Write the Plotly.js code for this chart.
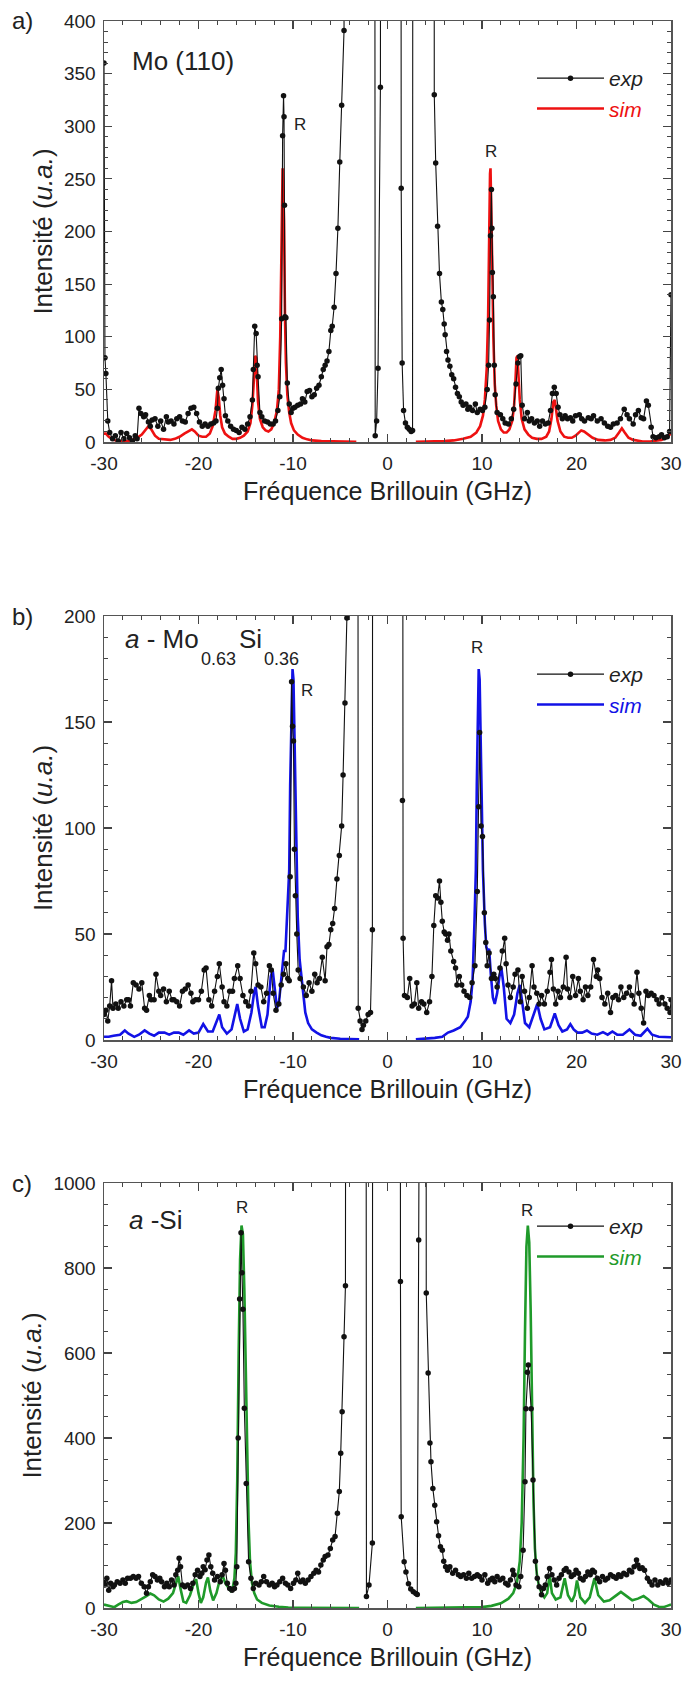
<!DOCTYPE html>
<html>
<head>
<meta charset="utf-8">
<script src="https://cdn.plot.ly/plotly-3.0.1.min.js"></script>
<style>html,body{margin:0;padding:0;background:#fff;}#chart{width:683px;height:1682px;}</style>
</head>
<body>
<div id="chart"></div>
<script>
// ---------- tick labels ----------
const X_TICKS = [-30, -20, -10, 0, 10, 20, 30];
const X_TICK_TEXT = ['-30', '-20', '-10', '0', '10', '20', '30'];

// ---------- panel a : Mo (110) ----------
const A_EXP_X = [-30,-29.9,-29.8,-29.6,-29.4,-29.1,-28.8,-28.5,-28.2,-27.9,-27.6,-27.3,-27.0,-26.7,-26.5,-26.3,-26.1,-25.8,-25.6,-25.3,-25.1,-24.9,-24.6,-24.3,-24.0,-23.7,-23.4,-23.2,-22.9,-22.6,-22.3,-22.0,-21.7,-21.4,-21.1,-20.8,-20.5,-20.2,-19.9,-19.6,-19.3,-19.0,-18.7,-18.4,-18.15,-18.0,-17.9,-17.75,-17.6,-17.45,-17.3,-17.15,-16.9,-16.6,-16.3,-16.0,-15.7,-15.4,-15.1,-14.8,-14.55,-14.3,-14.2,-14.05,-13.9,-13.8,-13.7,-13.5,-13.3,-13.0,-12.7,-12.4,-12.1,-11.85,-11.6,-11.4,-11.2,-11.1,-11.0,-10.95,-10.9,-10.85,-10.75,-10.6,-10.4,-10.2,-10.0,-9.8,-9.5,-9.2,-9.0,-8.75,-8.5,-8.25,-8.0,-7.75,-7.5,-7.25,-7.0,-6.8,-6.6,-6.4,-6.2,-6.0,-5.85,-5.65,-5.45,-5.25,-5.05,-4.85,-4.6,-4.4,-1.45,-1.3,-1.15,-1.0,-0.75,-0.6,1.35,1.45,1.55,1.7,1.9,2.1,2.3,2.5,2.65,2.75,4.85,4.95,5.1,5.3,5.5,5.7,5.85,6.0,6.1,6.25,6.4,6.6,6.8,7.0,7.2,7.4,7.6,7.8,8.0,8.3,8.5,8.7,9.0,9.3,9.5,9.8,10.05,10.3,10.55,10.7,10.8,10.9,11.0,11.05,11.1,11.2,11.3,11.4,11.6,11.95,12.2,12.45,12.8,13.1,13.35,13.6,13.8,13.95,14.1,14.25,14.5,14.8,15.0,15.25,15.55,15.85,16.1,16.4,16.7,17.0,17.25,17.45,17.65,17.85,18.05,18.25,18.5,18.8,19.05,19.35,19.6,19.9,20.3,20.55,20.85,21.25,21.55,21.8,22.2,22.6,22.95,23.3,23.6,23.9,24.3,24.65,25.05,25.35,25.6,26.0,26.25,26.55,26.85,27.1,27.4,27.6,27.9,28.1,28.4,28.75,29.0,29.3,29.6,29.85,30.0];
const A_EXP_Y = [360,80,65,20,9,3,6,1,9,3,8,4,1,6,3,32,27,24,26,19,15,21,22,15,20,12,24,19,20,17,22,24,20,19,27,32,33,27,19,15,17,15,17,18,20,32,51,61,69,54,41,25,20,15,12,11,9,14,12,17,24,40,69,110,103,73,62,28,24,20,19,17,17,20,30,43,117,291,329,309,225,119,118,56,36,28,32,33,35,36,41,38,48,49,43,45,51,54,62,69,73,77,86,106,110,128,160,203,266,320,391,2000,2000,6,20,70,337,2000,2000,241,75,30,18,14,12,10,11,2000,2000,330,265,205,160,133,126,112,102,86,78,72,64,60,52,46,43,38,35,36,31,33,30,36,28,31,30,33,50,73,116,196,240,203,161,138,73,45,28,26,22,18,17,22,31,55,75,81,82,35,22,28,20,22,18,20,15,20,17,18,30,46,52,46,33,26,22,25,22,23,20,25,26,22,20,23,22,25,20,22,18,15,14,17,18,22,31,26,22,17,26,30,23,22,39,35,14,5,4,5,7,4,5,10,140];
const A_SIM_X_NEG = [-30,-29.8,-29.5,-29,-28.5,-28,-27.5,-27,-26.5,-26,-25.6,-25.3,-25.0,-24.6,-24.2,-23.5,-23,-22.5,-22,-21.5,-21.0,-20.7,-20.4,-20,-19.6,-19.2,-18.8,-18.5,-18.2,-18.0,-17.85,-17.7,-17.5,-17.2,-16.8,-16.4,-16,-15.6,-15.2,-14.8,-14.5,-14.3,-14.1,-14.0,-13.9,-13.8,-13.7,-13.5,-13.2,-12.9,-12.6,-12.3,-12.0,-11.7,-11.5,-11.35,-11.25,-11.15,-11.1,-11.0,-10.95,-10.85,-10.75,-10.6,-10.4,-10.2,-9.9,-9.5,-9.0,-8.5,-8,-7,-6,-5,-4,-3.3];
const A_SIM_Y_NEG = [8,8,5,2,1,1,1,2,4,7,11,15,12,6,3,2,2,3,5,8,11,12,10,6,5,5,8,15,30,50,42,25,14,8,5,3,3,4,6,10,18,35,65,82,80,60,38,22,14,11,10,12,18,30,50,100,165,258,260,230,210,120,75,45,28,18,11,7,4,2.5,1.5,0.8,0.5,0.3,0.2,0.2];
const A_SIM_X_POS = [3.0,4,5,6,7,8,8.8,9.4,9.8,10.1,10.3,10.5,10.65,10.75,10.85,10.9,11.0,11.1,11.2,11.35,11.5,11.7,12.0,12.3,12.6,12.9,13.2,13.4,13.55,13.65,13.75,13.85,14.0,14.2,14.5,14.9,15.3,15.8,16.3,16.8,17.1,17.35,17.55,17.7,17.85,18.0,18.3,18.7,19.1,19.5,19.9,20.2,20.5,20.8,21.2,21.7,22.3,23,23.6,24.1,24.5,24.8,25.1,25.5,26,26.5,27,27.8,28.5,29,29.4,29.7,30];
const A_SIM_Y_POS = [0.2,0.3,0.5,0.8,1.5,3,5,9,15,25,40,70,120,210,255,260,220,160,100,55,35,20,12,9,9,12,20,35,60,80,82,65,40,22,12,7,4,3,3,5,10,22,38,40,32,20,10,5,4,4,6,9,11,10,7,4,2,1.5,2,4,9,13,9,4,2,1,0.5,0.5,1,2,4,6,8];

// ---------- panel b : a-Mo0.63Si0.36 ----------
const B_EXP_X = [-30,-29.8,-29.6,-29.4,-29.2,-29.05,-28.75,-28.5,-28.2,-27.9,
-27.6,-27.4,-27.2,-26.9,-26.6,-26.3,-26.0,-25.7,-25.5,-25.2,
-25.0,-24.7,-24.5,-24.2,-24.0,-23.7,-23.4,-23.1,-22.8,-22.6,
-22.3,-22.0,-21.7,-21.4,-21.1,-20.8,-20.6,-20.3,-20.0,-19.7,
-19.4,-19.2,-18.9,-18.6,-18.3,-18.0,-17.8,-17.5,-17.3,-17.0,
-16.7,-16.4,-16.2,-15.85,-15.6,-15.3,-15.0,-14.7,-14.45,-14.15,
-13.95,-13.7,-13.4,-13.1,-12.8,-12.5,-12.3,-12.1,-11.8,-11.5,
-11.25,-11.0,-10.75,-10.55,-10.4,-10.3,-10.15,-10.05,-9.95,-9.85,
-9.75,-9.6,-9.45,-9.25,-8.9,-8.6,-8.3,-8.0,-7.7,-7.45,
-7.2,-6.9,-6.6,-6.4,-6.2,-6.0,-5.8,-5.6,-5.35,-5.1,
-4.85,-4.7,-4.5,-4.3,-4.15,-3.2,-3.1,-2.9,-2.7,-2.55,
-2.3,-2.05,-1.8,-1.6,-1.5,1.5,1.58,1.65,1.8,2.1,
2.35,2.6,2.85,3.1,3.3,3.6,3.85,4.15,4.45,4.7,
4.9,5.1,5.3,5.5,5.65,5.8,6.0,6.15,6.35,6.5,
6.7,7.0,7.2,7.35,7.6,7.85,8.1,8.4,8.7,8.95,
9.25,9.5,9.65,9.75,9.9,10.05,10.25,10.4,10.55,10.75,
11.0,11.25,11.4,11.6,11.9,12.15,12.4,12.55,12.75,13.0,
13.3,13.5,13.8,14.05,14.25,14.5,14.8,15.0,15.3,15.5,
15.8,16.05,16.3,16.6,16.9,17.2,17.35,17.55,17.8,18.05,
18.3,18.6,18.9,19.05,19.3,19.6,19.9,20.2,20.4,20.7,
20.95,21.2,21.5,21.8,22.1,22.25,22.45,22.7,23.0,23.3,
23.6,23.85,24.15,24.45,24.7,25.0,25.3,25.6,25.85,26.1,
26.4,26.6,26.85,27.1,27.35,27.6,27.9,28.2,28.5,28.75,
29.05,29.35,29.6,29.9,30.0];
const B_EXP_Y = [12,14,9,16,28,15,17,15,18,16,
19,19,16,27,26,24,27,15,14,21,
19,19,31,23,21,24,18,23,19,19,
18,16,23,24,26,22,18,19,19,23,
33,34,19,16,23,30,36,25,18,16,
23,23,29,35,29,21,18,16,23,41,
36,26,25,18,22,35,33,22,14,17,
26,31,36,29,28,77,169,148,141,90,
68,50,33,29,25,21,27,23,31,27,
29,39,28,44,45,52,55,62,76,87,
101,125,159,199,1000,1000,15,9,5,7,
9,12,13,52,1000,1000,113,48,21,20,
29,16,17,27,15,18,17,13,18,30,
54,68,67,75,65,56,51,50,47,50,
42,37,34,26,30,26,23,21,20,27,
35,70,110,145,101,96,60,46,35,41,
29,31,29,25,34,42,48,36,26,20,
25,31,33,18,30,23,15,20,35,25,
22,17,21,17,23,32,38,24,17,23,
20,25,39,24,20,30,21,29,23,19,
25,21,25,38,30,33,29,20,17,22,
13,20,21,19,25,20,22,25,21,17,
32,22,15,8,23,21,22,21,19,17,
20,17,15,13,19];
const B_SIM_X_NEG = [-30,-29.5,-29,-28.3,-27.8,-27.4,-26.8,-26.3,-25.7,-25.2,
-24.7,-24.2,-23.6,-23.1,-22.6,-22.1,-21.6,-21.0,-20.5,-20.0,
-19.5,-19.0,-18.5,-18.0,-17.8,-17.5,-17.0,-16.5,-16.1,-15.9,
-15.6,-15.2,-14.8,-14.4,-14.1,-13.95,-13.7,-13.3,-13.0,-12.7,
-12.35,-12.15,-11.95,-11.7,-11.5,-11.2,-10.95,-10.8,-10.6,-10.4,
-10.3,-10.15,-10.05,-9.95,-9.85,-9.75,-9.65,-9.5,-9.3,-9.1,
-8.9,-8.7,-8.4,-8.0,-7.5,-7.0,-6.5,-6.0,-5.0,-4.0,-3.0];
const B_SIM_Y_NEG = [1.5,1.5,2,2.5,4.5,3,1.5,2.5,4.5,3,
2,3.5,3.5,2.5,3.5,3.5,2.5,4.5,3,3.5,
7.5,4,4,10,12,6,3,5,14,17,
10,4,5,13,23,25,16,6,6,12,
30,33,25,15,17,32,42,42,60,80,
120,160,175,170,140,120,80,58,38,29,
20,13,8,5,3.5,2.2,1.5,1,0.6,0.4,0.3];
const B_SIM_X_POS = [3.0,4.0,5.0,5.8,6.4,7.0,7.7,8.2,8.5,8.8,
9.0,9.2,9.35,9.45,9.55,9.65,9.75,9.85,9.95,10.1,
10.3,10.45,10.6,10.75,10.95,11.15,11.35,11.6,11.85,12.05,
12.3,12.6,13.0,13.4,13.75,14.0,14.25,14.55,15.0,15.5,
15.85,16.2,16.6,17.2,17.7,18.1,18.5,19.0,19.35,19.7,
20.1,20.6,21.1,21.6,22.2,22.8,23.3,23.8,24.3,24.9,
25.6,26.2,26.8,27.5,28.0,28.7,29.3,30.0];
const B_SIM_Y_POS = [0.3,0.5,1,1.5,3.5,4.5,6,9,11,18,
28,55,80,120,150,175,170,140,120,80,
55,44,42,43,30,20,17,22,30,34,
25,10,8,12,22,26,18,8,6,12,
17,10,5,6,12.5,7,4,5,7.5,5,
3.5,3.5,4.5,3,2.5,3.7,2.5,4,2.5,2.5,
5,2.5,2,5.3,2.5,1.5,1.5,1.3];

// ---------- panel c : a-Si ----------
const C_EXP_X = [-30,-29.9,-29.7,-29.5,-29.3,-29.05,-28.9,-28.6,-28.3,-28.0,
-27.75,-27.5,-27.2,-26.9,-26.6,-26.35,-26.05,-25.75,-25.5,-25.3,
-25.1,-24.85,-24.6,-24.35,-24.1,-23.9,-23.6,-23.35,-23.1,-22.85,
-22.6,-22.4,-22.2,-22.05,-21.9,-21.7,-21.45,-21.15,-20.85,-20.6,
-20.35,-20.1,-19.85,-19.65,-19.5,-19.3,-19.1,-18.9,-18.7,-18.5,
-18.3,-18.0,-17.7,-17.5,-17.3,-17.15,-16.95,-16.7,-16.45,-16.2,
-16.05,-15.95,-15.8,-15.65,-15.5,-15.4,-15.3,-15.15,-14.95,-14.7,
-14.45,-14.2,-13.95,-13.6,-13.35,-13.1,-12.8,-12.5,-12.2,-11.95,
-11.7,-11.4,-11.1,-10.8,-10.55,-10.25,-9.95,-9.7,-9.5,-9.2,
-8.95,-8.7,-8.4,-8.1,-7.8,-7.55,-7.3,-7.05,-6.8,-6.6,
-6.3,-6.05,-5.8,-5.55,-5.3,-5.1,-4.95,-4.8,-4.6,-4.45,
-4.3,-2.35,-2.23,-1.96,-1.6,-1.5,1.3,1.37,1.45,1.76,
1.95,2.22,2.46,2.73,3.0,3.15,3.3,3.4,4.0,4.1,
4.3,4.49,4.6,4.8,5.0,5.2,5.4,5.6,5.8,5.95,
6.15,6.35,6.6,6.9,7.2,7.5,7.75,8.05,8.35,8.6,
8.9,9.2,9.5,9.75,10.0,10.3,10.6,10.85,11.1,11.35,
11.6,11.9,12.2,12.5,12.75,13.0,13.25,13.4,13.6,13.9,
14.1,14.35,14.55,14.65,14.8,14.9,15.2,15.4,15.65,15.85,
16.05,16.3,16.5,16.7,16.9,17.15,17.4,17.65,17.9,18.15,
18.4,18.7,18.9,19.2,19.45,19.7,19.95,20.2,20.4,20.7,
20.95,21.2,21.45,21.7,21.9,22.2,22.45,22.75,23.05,23.3,
23.6,23.9,24.2,24.45,24.7,25.0,25.3,25.6,25.85,26.1,
26.35,26.5,26.7,26.95,27.2,27.5,27.75,28.0,28.3,28.6,
28.85,29.15,29.45,29.7,30.0];
const C_EXP_Y = [60,54,70,42,58,50,54,62,58,66,
58,70,70,74,70,74,58,50,35,50,
62,78,74,66,70,62,50,58,50,66,
54,78,89,117,97,54,50,54,46,58,
78,89,74,82,97,90,113,125,97,82,
66,74,62,78,105,89,58,46,42,46,
58,97,400,727,883,789,703,470,293,109,
70,46,58,54,62,74,62,54,58,50,
54,62,70,58,54,46,58,66,82,62,
66,58,66,74,82,89,85,101,113,121,
125,140,160,168,223,274,364,462,638,758,
5000,5000,27,54,153,5000,5000,768,215,109,
85,57,45,38,34,32,866,5000,5000,741,
553,388,344,281,242,203,170,144,136,110,
97,89,97,82,89,78,74,78,70,82,
70,74,78,74,66,78,58,66,70,62,
74,66,70,58,54,66,89,78,54,50,
74,136,297,469,555,572,469,301,110,70,
50,31,46,54,74,93,78,66,54,70,
78,89,93,85,74,78,89,82,70,66,
74,85,78,89,85,70,62,74,66,70,
78,74,70,78,74,82,78,89,85,97,
113,101,93,95,89,70,62,54,66,54,
62,58,66,58,66];
const C_SIM_X_NEG = [-30,-29.7,-29.3,-28.9,-28.5,-28.0,-27.6,-27.1,-26.6,-26.1,
-25.6,-25.1,-24.7,-24.2,-23.7,-23.2,-22.7,-22.35,-22.15,-21.9,
-21.6,-21.3,-20.9,-20.5,-20.25,-20.0,-19.75,-19.5,-19.2,-19.0,
-18.75,-18.45,-18.1,-17.8,-17.45,-17.15,-16.85,-16.6,-16.4,-16.2,
-16.05,-15.9,-15.75,-15.6,-15.45,-15.3,-15.15,-15.0,-14.85,-14.7,
-14.55,-14.35,-14.1,-13.8,-13.3,-12.5,-11.5,-10.5,-9.0,-7.0,-3.0];
const C_SIM_Y_NEG = [8,6,3,2,8,14,16,12,14,20,
27,34,30,20,15,22,35,60,75,45,
15,12,30,58,68,35,12,25,60,72,
40,18,35,62,76,58,48,40,45,70,
130,300,600,820,900,880,750,560,350,200,
110,60,35,20,12,6,3,1,0.5,0,0];
const C_SIM_X_POS = [3.0,8,10,11,12,12.8,13.3,13.7,14.0,14.2,
14.4,14.55,14.7,14.85,15.0,15.15,15.3,15.45,15.6,15.8,
16.0,16.3,16.6,16.9,17.15,17.4,17.8,18.3,18.75,19.1,
19.5,19.8,20.05,20.4,20.9,21.4,21.9,22.3,22.9,23.5,
24.1,24.7,25.3,25.9,26.5,27.1,27.6,28.2,28.7,29.2,29.6,30];
const C_SIM_Y_POS = [0,0.5,2,5,11,22,35,60,110,200,
400,650,850,900,860,700,450,250,140,80,
55,35,25,35,78,35,20,25,70,30,
15,30,65,25,12,25,70,30,15,18,
28,38,28,18,22,28,20,8,3,2,5,8];

// ---------- styling ----------
const FONT = 'Liberation Sans, Arial, Helvetica, sans-serif';
const SIM_COLORS = ['#ee1111', '#1212e6', '#1f9a2a'];

function joinSim(xn, yn, xp, yp) {
  return { x: xn.concat([null], xp), y: yn.concat([null], yp) };
}

const panels = [
  { ex: A_EXP_X, ey: A_EXP_Y, sim: joinSim(A_SIM_X_NEG, A_SIM_Y_NEG, A_SIM_X_POS, A_SIM_Y_POS), yr: [0, 400], dy: 50, mdy: 10 },
  { ex: B_EXP_X, ey: B_EXP_Y, sim: joinSim(B_SIM_X_NEG, B_SIM_Y_NEG, B_SIM_X_POS, B_SIM_Y_POS), yr: [0, 200], dy: 50, mdy: 10 },
  { ex: C_EXP_X, ey: C_EXP_Y, sim: joinSim(C_SIM_X_NEG, C_SIM_Y_NEG, C_SIM_X_POS, C_SIM_Y_POS), yr: [0, 1000], dy: 200, mdy: 50 }
];

// pixel geometry of the three frames (top, bottom) and legend tops in a 683x1682 page
const FRAMES = [[21, 442], [616, 1040], [1183, 1608]];
const LEGEND_TOPS = [58, 654, 1206];
const H = 1682, W = 683;
const XDOM = [104 / W, 671 / W];

const traces = [];
const layout = {
  width: W, height: H,
  margin: { l: 0, r: 0, t: 0, b: 0 },
  paper_bgcolor: '#fff', plot_bgcolor: '#fff',
  font: { family: FONT, color: '#222' },
  showlegend: true,
  annotations: []
};

panels.forEach((p, i) => {
  const n = i === 0 ? '' : String(i + 1);
  const xa = 'x' + n, ya = 'y' + n;
  const leg = 'legend' + n;
  traces.push({
    x: p.sim.x, y: p.sim.y, xaxis: xa, yaxis: ya, mode: 'lines', connectgaps: false,
    line: { color: SIM_COLORS[i], width: 2.6 },
    name: '<i><span style="color:' + SIM_COLORS[i] + '">sim</span></i>', legend: leg, legendrank: 2
  });
  traces.push({
    x: p.ex, y: p.ey, xaxis: xa, yaxis: ya, mode: 'lines+markers',
    line: { color: '#111', width: 1.1 }, marker: { color: '#111', size: 5.5 },
    name: '<i>exp</i>', legend: leg, legendrank: 1
  });
  const [top, bot] = FRAMES[i];
  layout['xaxis' + n] = {
    domain: XDOM, anchor: ya, range: [-30, 30],
    tickmode: 'array', tickvals: X_TICKS, ticktext: X_TICK_TEXT,
    ticks: 'inside', ticklen: 8, tickwidth: 1.2, tickcolor: '#444',
    minor: { tickmode: 'linear', tick0: 0, dtick: 2, ticks: 'inside', ticklen: 4, tickcolor: '#444', tickwidth: 1 },
    showline: true, linecolor: '#555', linewidth: 1.5, mirror: 'allticks',
    showgrid: false, zeroline: false, ticklabelstandoff: 4,
    tickfont: { family: FONT, size: 19, color: '#222' },
    title: { text: 'Fréquence Brillouin (GHz)', font: { family: FONT, size: 25, color: '#222' }, standoff: 9 }
  };
  layout['yaxis' + n] = {
    domain: [1 - bot / H, 1 - top / H], anchor: xa, range: p.yr,
    tickmode: 'linear', tick0: 0, dtick: p.dy,
    ticks: 'inside', ticklen: 8, tickwidth: 1.2, tickcolor: '#444',
    minor: { tickmode: 'linear', tick0: 0, dtick: p.mdy, ticks: 'inside', ticklen: 4, tickcolor: '#444', tickwidth: 1 },
    showline: true, linecolor: '#555', linewidth: 1.5, mirror: 'allticks',
    showgrid: false, zeroline: false, ticklabelstandoff: 3,
    tickfont: { family: FONT, size: 19, color: '#222' },
    title: { text: 'Intensité (<i>u.a.</i>)', font: { family: FONT, size: 26, color: '#222' }, standoff: 4 }
  };
  layout[leg] = {
    x: 532 / W, y: 1 - LEGEND_TOPS[i] / H, xanchor: 'left', yanchor: 'top',
    bgcolor: 'rgba(0,0,0,0)', borderwidth: 0, itemwidth: 67,
    font: { family: FONT, size: 21, color: '#222' }, tracegroupgap: 0
  };
  layout.annotations.push({
    xref: 'paper', yref: 'paper', x: 10 / W, y: 1 - top / H, xanchor: 'left', yanchor: 'middle',
    text: ['a)', 'b)', 'c)'][i], showarrow: false, font: { family: FONT, size: 24, color: '#222' }
  });
});

const R_LABELS = [
  { ax: 'x', ay: 'y', x: -9.3, y: 302 }, { ax: 'x', ay: 'y', x: 11.0, y: 276 },
  { ax: 'x2', ay: 'y2', x: -8.5, y: 165 }, { ax: 'x2', ay: 'y2', x: 9.5, y: 185 },
  { ax: 'x3', ay: 'y3', x: -15.45, y: 942 }, { ax: 'x3', ay: 'y3', x: 14.8, y: 935 }
];
R_LABELS.forEach(r => layout.annotations.push({
  xref: r.ax, yref: r.ay, x: r.x, y: r.y, text: 'R', showarrow: false,
  font: { family: FONT, size: 17, color: '#222' }
}));

// sample names; the composition indices of panel b sit well below the baseline
const SAMPLE_LABELS = [
  { ax: 'x', ay: 'y', x: -27.2, y: 362, t: 'Mo (110)', s: 26 },
  { ax: 'x2', ay: 'y2', x: -28.0, y: 189, t: '<i>a</i> - Mo', s: 26 },
  { ax: 'x2', ay: 'y2', x: -19.9, y: 179.5, t: '0.63', s: 18 },
  { ax: 'x2', ay: 'y2', x: -15.9, y: 189, t: 'Si', s: 26 },
  { ax: 'x2', ay: 'y2', x: -13.3, y: 179.5, t: '0.36', s: 18 },
  { ax: 'x3', ay: 'y3', x: -27.6, y: 912, t: '<i>a</i> -Si', s: 26 }
];
SAMPLE_LABELS.forEach(s => layout.annotations.push({
  xref: s.ax, yref: s.ay, x: s.x, y: s.y, text: s.t, showarrow: false, xanchor: 'left',
  font: { family: FONT, size: s.s, color: '#222' }
}));

Plotly.newPlot('chart', traces, layout, { staticPlot: true, displayModeBar: false });
</script>
</body>
</html>
